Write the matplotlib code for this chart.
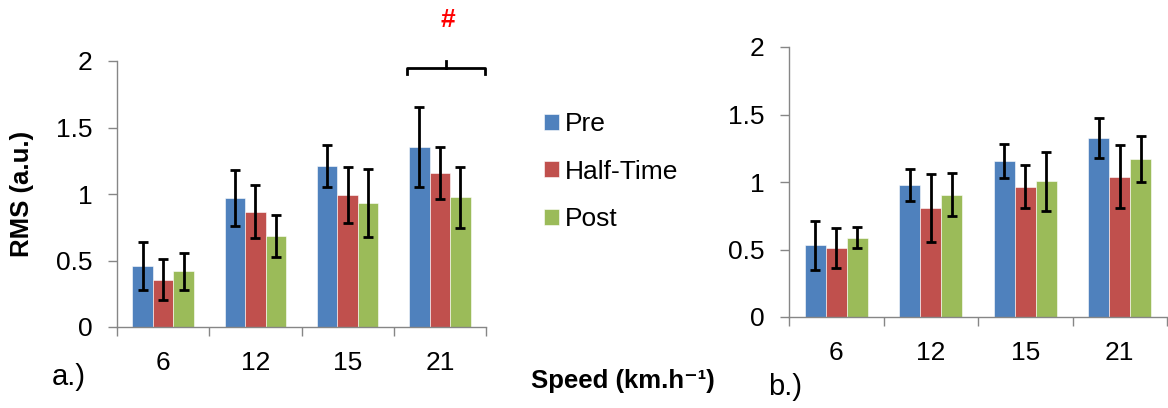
"""Grouped bar chart of RMS by running speed, two panels (a, b)."""

import matplotlib as mpl
mpl.use("Agg")
import matplotlib.pyplot as plt
import numpy as np

speeds = ["6", "12", "15", "21"]
phases = ["Pre", "Half-Time", "Post"]
colors = ["#4F81BD", "#C0504D", "#9BBB59"]

# panel a
a_pre = [0.46, 0.97, 1.21, 1.355]
a_half = [0.355, 0.868, 0.99, 1.16]
a_post = [0.42, 0.685, 0.933, 0.976]
a_pre_err = [0.18, 0.21, 0.155, 0.30]
a_half_err = [0.155, 0.20, 0.21, 0.195]
a_post_err = [0.14, 0.16, 0.255, 0.23]

# panel b
b_pre = [0.53, 0.978, 1.153, 1.326]
b_half = [0.511, 0.807, 0.965, 1.04]
b_post = [0.588, 0.906, 1.005, 1.17]
b_pre_err = [0.18, 0.12, 0.125, 0.145]
b_half_err = [0.145, 0.25, 0.16, 0.235]
b_post_err = [0.08, 0.16, 0.217, 0.17]

SPINE = "#868686"
FONT = ["Liberation Sans", "DejaVu Sans"]
TICK_SIZE = 19

plt.rcParams["font.family"] = FONT
plt.rcParams["font.size"] = TICK_SIZE


def draw_panel(ax, means, errs):
    x = np.arange(len(speeds))
    width = 0.222
    for i, (m, e, c) in enumerate(zip(means, errs, colors)):
        pos = x + (i - 1) * width
        ax.bar(pos, m, width, color=c, edgecolor="white", linewidth=0.4,
               label=phases[i], zorder=2)
        ax.errorbar(pos, m, yerr=e, fmt="none", ecolor="black",
                    elinewidth=2.0, capsize=3.4, capthick=2.0, zorder=3)
    ax.set_xlim(-0.5, len(speeds) - 0.5)
    ax.set_ylim(0, 2)
    ax.set_yticks([0, 0.5, 1, 1.5, 2])
    ax.set_yticklabels(["0", "0.5", "1", "1.5", "2"])
    ax.set_xticks(np.arange(len(speeds) + 1) - 0.5)
    ax.set_xticklabels([])
    ax.set_xticks(x, minor=True)
    ax.set_xticklabels(speeds, minor=True)
    ax.tick_params(axis="x", which="major", direction="out", length=6.5,
                   width=1, color=SPINE)
    ax.tick_params(axis="x", which="minor", length=0, pad=17,
                   labelsize=TICK_SIZE)
    ax.tick_params(axis="y", direction="out", length=6.5, width=1,
                   color=SPINE, pad=11, labelsize=TICK_SIZE)
    for side in ("top", "right"):
        ax.spines[side].set_visible(False)
    for side in ("left", "bottom"):
        ax.spines[side].set_color(SPINE)
        ax.spines[side].set_linewidth(1.0)


fig = plt.figure(figsize=(11.68, 4.08), dpi=100)
W, H = 1168, 408

ax_a = fig.add_axes([117 / W, 1 - 327 / H, (486 - 117) / W, (327 - 61) / H])
draw_panel(ax_a, [a_pre, a_half, a_post], [a_pre_err, a_half_err, a_post_err])

ax_b = fig.add_axes([789 / W, 1 - 317 / H, (1167 - 789) / W, (317 - 47) / H])
draw_panel(ax_b, [b_pre, b_half, b_post], [b_pre_err, b_half_err, b_post_err])

# significance bracket over the 21 km/h group in panel a
bx0, bx1, bmid = 2.64, 3.49, 3.07
by, bdrop, btop = 1.95, 1.90, 2.0
ax_a.plot([bx0, bx0, bx1, bx1], [bdrop, by, by, bdrop], color="black",
          lw=2, clip_on=False, solid_joinstyle="round")
ax_a.plot([bmid, bmid], [by, btop], color="black", lw=2, clip_on=False)
ax_a.text(bmid + 0.02, 2.31, "#", color="red", fontsize=19, fontweight="bold",
          ha="center", va="center", clip_on=False)

ax_a.legend(loc="upper left", bbox_to_anchor=(544 / W, 1 - 112 / H),
            bbox_transform=fig.transFigure, frameon=False, fontsize=TICK_SIZE,
            handlelength=0.55, handleheight=0.55, handletextpad=0.25,
            labelspacing=0.9, borderpad=0, borderaxespad=0)

fig.text(22 / W, 1 - 194 / H, "RMS (a.u.)", rotation=90, ha="center",
         va="center", fontsize=18.5, fontweight="bold")
fig.text(623 / W, 1 - 381 / H, "Speed (km.h\u207b\u00b9)", ha="center",
         va="center", fontsize=18.5, fontweight="bold", family=FONT)
fig.text(69 / W, 1 - 377 / H, "a.)", ha="center", va="center", fontsize=21)
fig.text(785 / W, 1 - 387 / H, "b.)", ha="center", va="center", fontsize=21)

fig.savefig("out.png", dpi=100)
